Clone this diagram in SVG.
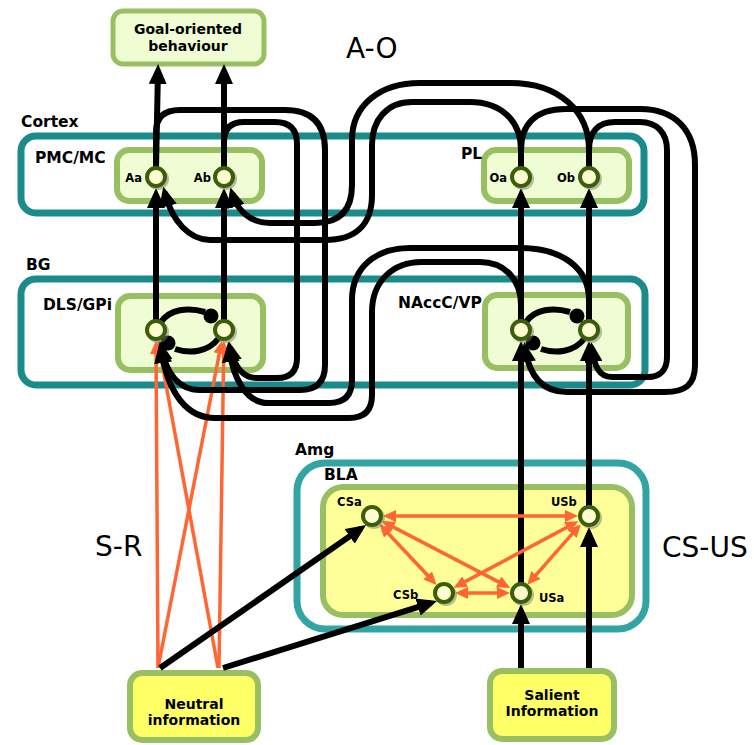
<svg xmlns="http://www.w3.org/2000/svg" width="754" height="745" viewBox="0 0 754 745">
<defs>
<style>
.region{fill:none;stroke:#1a8b8b;stroke-width:7}
.amg{fill:none;stroke:#33a4a4;stroke-width:7}
.gbox{fill:#f0fdd4;stroke:#98c062;stroke-width:6}
.bla{fill:#ffff99;stroke:#98c062;stroke-width:6}
.ybox{fill:#ffff66;stroke:#98c062;stroke-width:6}
.lbl{font-family:"DejaVu Sans",sans-serif;font-weight:bold;font-size:15.5px;fill:#000}
.nlbl{font-family:"DejaVu Sans",sans-serif;font-weight:bold;font-size:11.5px;fill:#000}
.btxt{font-family:"DejaVu Sans",sans-serif;font-weight:bold;font-size:14px;fill:#000;text-anchor:middle}
.big{font-family:"DejaVu Sans",sans-serif;font-size:28px;fill:#000}
.blk{fill:none;stroke:#000;stroke-width:6}
.arr{marker-end:url(#ah)}
.org{fill:none;stroke:#ff6633;stroke-width:3.5;marker-end:url(#oh)}
.dbl{marker-start:url(#oh)}
.ring{fill:#fffccf;stroke:#3b5e0a;stroke-width:4}
.shd{fill:#777;opacity:0.5}
</style>
<marker id="ah" markerUnits="userSpaceOnUse" viewBox="0 0 20 18" markerWidth="20" markerHeight="18" refX="14" refY="9" orient="auto"><path d="M0,0 L20,9 L0,18 z" fill="#000"/></marker>
<marker id="oh" markerUnits="userSpaceOnUse" viewBox="0 0 13 12" markerWidth="13" markerHeight="12" refX="9" refY="6" orient="auto-start-reverse"><path d="M0,0 L13,6 L0,12 z" fill="#ff6633"/></marker>
</defs>
<rect width="754" height="745" fill="#fff"/>

<g id="regions">
<rect id="cortex" class="region" x="21" y="136" width="623" height="77" rx="15"/>
<rect id="bg" class="region" x="21" y="279" width="624" height="106" rx="15"/>
<rect id="amg" class="amg" x="297" y="463" width="349" height="166" rx="28"/>
<text class="lbl" x="21" y="127">Cortex</text>
<text class="lbl" x="26" y="270">BG</text>
<text class="lbl" x="295" y="455">Amg</text>
<text class="big" x="346" y="58">A-O</text>
<text class="big" x="95" y="556">S-R</text>
<text class="big" x="662" y="557">CS-US</text>
</g>

<g id="goal"><rect class="gbox" style="stroke-width:5" x="113" y="11" width="151" height="53" rx="10"/><text class="btxt" x="188" y="34">Goal-oriented</text><text class="btxt" x="188" y="51">behaviour</text></g>
<g id="pmc"><rect class="gbox" x="117" y="150" width="145" height="51" rx="12"/><text class="lbl" x="35" y="163">PMC/MC</text></g>
<g id="pl"><rect class="gbox" x="484" y="150" width="145" height="51" rx="12"/><text class="lbl" x="461" y="159">PL</text></g>
<g id="dls"><rect class="gbox" x="118" y="296" width="145" height="74" rx="12"/><text class="lbl" x="43" y="310">DLS/GPi</text></g>
<g id="nacc"><rect class="gbox" x="485" y="295" width="143" height="73" rx="12"/><text class="lbl" x="398" y="308">NAccC/VP</text></g>
<g id="bla"><rect class="bla" x="323" y="487" width="309" height="128" rx="20"/><text class="lbl" x="324" y="480">BLA</text></g>
<g id="neutral"><rect class="ybox" x="130" y="673" width="128" height="67" rx="12"/><text class="btxt" x="194" y="709">Neutral</text><text class="btxt" x="194" y="725">information</text></g>
<g id="salient"><rect class="ybox" x="490" y="671" width="124" height="68" rx="12"/><text class="btxt" x="552" y="700">Salient</text><text class="btxt" x="552" y="716">Information</text></g>

<g id="connectors">
<path class="org" d="M158,668 L156,345"/>
<path class="org" d="M158,668 L221.1,344.7"/>
<path class="org" d="M218,668 L158.7,344.7"/>
<path class="org" d="M219,668 L223.8,345"/>
<path class="blk arr" d="M156,168 V132 Q156,110 180,110 H285 Q325,110 325,150 V365 Q325,390 300,390 H200 C178,390 166,372 161,347"/>
<path class="blk arr" d="M224,168 V142 Q224,122 244,122 H275 Q297,122 297,144 V358 Q297,378 277,378 H257 C242,378 234,366 230,347"/>
<path class="blk arr" d="M521,168 V150 C521,125 535,109 565,109 H640 C675,109 695,130 695,165 V365 C695,385 685,392 665,392 H567 C542,392 529,375 525,348"/>
<path class="blk arr" d="M589,168 V150 C589,132 598,122 615,122 H640 C657,122 667,133 667,150 V357 C667,370 660,377 648,377 H612 C599,377 594,366 592,348"/>
<path class="blk arr" d="M521,168 V150 C521,120 500,102 470,102 H412 C387,102 372,120 372,145 V195 C372,225 355,240 325,240 H210 C190,240 172,222 164.7,192.3"/>
<path class="blk arr" d="M589,168 V150 C589,112 560,83 510,83 H420 C380,83 352,105 352,140 V185 C352,210 340,223 315,223 H270 C250,223 237,210 232,193"/>
<path class="blk arr" d="M589,321 V300 C589,268 562,248 520,248 H410 C375,248 352,268 352,300 V380 Q352,403 329,403 H268 C246,403 233,378 229,348"/>
<path class="blk arr" d="M521,321 V305 C521,280 505,262 480,262 H422 C392,262 372,282 372,312 V395 Q372,418 349,418 H215 C188,418 168,395 161,349"/>
<path class="blk arr" d="M156,168 L158,70"/>
<path class="blk arr" d="M224,168 L224,70"/>
<path class="blk arr" d="M156,321 V194"/>
<path class="blk arr" d="M224,321 V194"/>
<path class="blk arr" d="M521,321 V194"/>
<path class="blk arr" d="M589,321 V194"/>
<path class="blk arr" d="M521,584 V347"/>
<path class="blk arr" d="M589,507 V347"/>
<path class="blk arr" d="M521,668 V610"/>
<path class="blk arr" d="M589,668 V533"/>
<path class="blk arr" d="M160,668 L361.1,528.4"/>
<path class="blk arr" d="M223,668 L431.3,602.8"/>
<path class="blk" d="M161,322 C170,309 188,307 205,312"/><circle cx="211" cy="316" r="7.5"/>
<path class="blk" d="M218,339 C208,352 190,354 175,349"/><circle cx="168" cy="343" r="7.5"/>
<path class="blk" d="M526,322 C535,309 553,307 570,312"/><circle cx="577" cy="316" r="7.5"/>
<path class="blk" d="M584,339 C574,352 556,354 541,349"/><circle cx="533" cy="343" r="7.5"/>
<path class="org dbl" d="M387,516 H574"/>
<path class="org dbl" d="M382.2,527 L433.8,582"/>
<path class="org dbl" d="M385.3,522.9 L506.7,586.1"/>
<path class="org dbl" d="M574.8,523.1 L457.2,585.9"/>
<path class="org dbl" d="M578.1,527.2 L529.9,581.8"/>
<path class="org dbl" d="M459,593 H506"/>
</g>

<g id="node-Aa"><circle class="shd" cx="158" cy="179" r="11"/><circle class="ring" cx="156" cy="177" r="9"/><text class="nlbl" x="142" y="182" text-anchor="end">Aa</text></g>
<g id="node-Ab"><circle class="shd" cx="226" cy="179" r="11"/><circle class="ring" cx="224" cy="177" r="9"/><text class="nlbl" x="211" y="182" text-anchor="end">Ab</text></g>
<g id="node-Oa"><circle class="shd" cx="523" cy="179" r="11"/><circle class="ring" cx="521" cy="177" r="9"/><text class="nlbl" x="507" y="182" text-anchor="end">Oa</text></g>
<g id="node-Ob"><circle class="shd" cx="591" cy="179" r="11"/><circle class="ring" cx="589" cy="177" r="9"/><text class="nlbl" x="575" y="182" text-anchor="end">Ob</text></g>
<g id="node-DLSa"><circle class="shd" cx="158" cy="332" r="11"/><circle class="ring" cx="156" cy="330" r="9"/></g>
<g id="node-DLSb"><circle class="shd" cx="226" cy="332" r="11"/><circle class="ring" cx="224" cy="330" r="9"/></g>
<g id="node-NAcca"><circle class="shd" cx="523" cy="332" r="11"/><circle class="ring" cx="521" cy="330" r="9"/></g>
<g id="node-NAccb"><circle class="shd" cx="591" cy="332" r="11"/><circle class="ring" cx="589" cy="330" r="9"/></g>
<g id="node-CSa"><circle class="shd" cx="374" cy="518" r="11"/><circle class="ring" cx="372" cy="516" r="9"/><text class="nlbl" x="337" y="506">CSa</text></g>
<g id="node-USb"><circle class="shd" cx="591" cy="518" r="11"/><circle class="ring" cx="589" cy="516" r="9"/><text class="nlbl" x="551" y="506">USb</text></g>
<g id="node-CSb"><circle class="shd" cx="446" cy="595" r="11"/><circle class="ring" cx="444" cy="593" r="9"/><text class="nlbl" x="393" y="599">CSb</text></g>
<g id="node-USa"><circle class="shd" cx="523" cy="595" r="11"/><circle class="ring" cx="521" cy="593" r="9"/><text class="nlbl" x="539" y="602">USa</text></g>
</svg>
